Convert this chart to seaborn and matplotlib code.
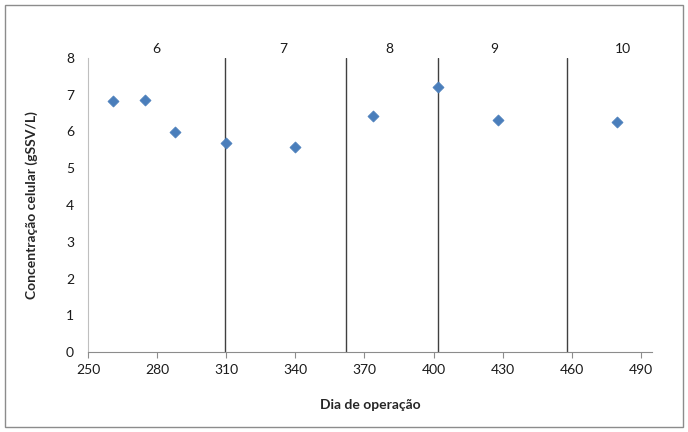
import pandas as pd
import matplotlib.pyplot as plt
import seaborn as sns
from matplotlib.patches import Rectangle

# data
dia = [261.0, 274.9, 287.9, 309.9, 340.0, 373.9, 401.8, 428.0, 479.8]
concentracao = [6.82, 6.86, 5.99, 5.68, 5.59, 6.41, 7.21, 6.30, 6.27]
fase_limites = [309.3, 362, 401.8, 458]
fase_rotulos = ["6", "7", "8", "9", "10"]
fase_rotulo_x = [279.6, 334.6, 380.7, 426.3, 482.3]

sns.set_style("white")
plt.rcParams["font.family"] = ["Lato", "DejaVu Sans"]

df = pd.DataFrame({"dia": dia, "conc": concentracao})

fig = plt.figure(figsize=(6.88, 4.32), dpi=100)
ax = fig.add_axes([88 / 688, 1 - 352 / 432, (652 - 88) / 688, (352 - 58) / 432])

sns.scatterplot(data=df, x="dia", y="conc", marker="D", s=32,
                color="#4A7EBB", edgecolor="#4A7EBB", linewidth=0.5, ax=ax, zorder=3)

for xv in fase_limites:
    ax.axvline(xv, color="#404040", linewidth=1.0, zorder=2)

for lab, xv in zip(fase_rotulos, fase_rotulo_x):
    ax.text(xv, 8.25, lab, ha="center", va="center", fontsize=10, color="#1a1a1a",
            clip_on=False)

ax.set_xlim(250, 494.8)
ax.set_ylim(0, 8)
ax.set_xticks(range(250, 491, 30))
ax.set_yticks(range(0, 9))

for side in ["top", "right"]:
    ax.spines[side].set_visible(False)
ax.spines["left"].set_color("#bfbfbf")
ax.spines["bottom"].set_color("#8c8c8c")

ax.tick_params(axis="x", direction="out", length=4, color="#8c8c8c",
               labelsize=10, labelcolor="#1a1a1a", pad=5, bottom=True)
ax.tick_params(axis="y", length=0, labelsize=10, labelcolor="#1a1a1a", pad=10)

ax.set_xlabel("Dia de operação", fontsize=10, fontweight="bold", labelpad=16)
ax.set_ylabel("Concentração celular (gSSV/L)", fontsize=10, fontweight="bold", labelpad=20)

fig.patches.append(Rectangle((5 / 688, 5 / 432), 678 / 688, 422 / 432,
                             transform=fig.transFigure, fill=False,
                             edgecolor="#8c8c8c", linewidth=1))

fig.savefig("out.png", dpi=100)
